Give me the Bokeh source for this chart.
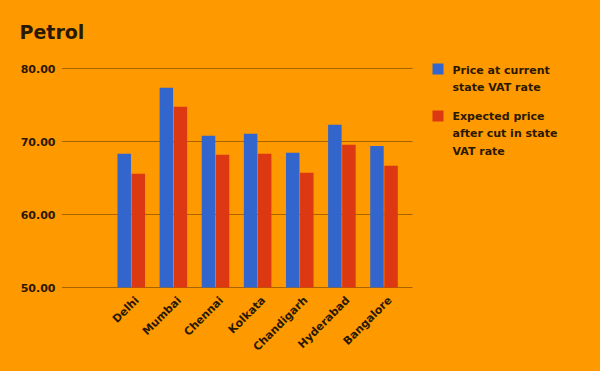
import math
from bokeh.plotting import figure
from bokeh.models import (ColumnDataSource, Range1d, FixedTicker, NumeralTickFormatter, LinearAxis)
from bokeh.core.properties import value
from bokeh.embed import file_html
from bokeh.resources import INLINE

cities = ["Delhi", "Mumbai", "Chennai", "Kolkata", "Chandigarh", "Hyderabad", "Bangalore"]
current_price = [68.31, 77.35, 70.78, 71.05, 68.45, 72.28, 69.40]
expected_price = [65.57, 74.75, 68.17, 68.31, 65.71, 69.54, 66.67]
y_ticks = [50, 60, 70, 80]
series_names = ["Price at current\nstate VAT rate", "Expected price\nafter cut in state\nVAT rate"]
series_colors = ["#3366cc", "#dc3912"]

BG = "#ff9900"
TXT = "#2a1800"
GRID = "#a86400"
FONT = "DejaVu Sans"

# pixel geometry of the plotting frame
W, H = 600, 371
FL, FT, FB = 61, 50, 288          # frame left, top, bottom (px)
PX_PER_X = 42.125                 # px per category
PX_PER_Y = 7.3                    # px per unit of price
X0 = -1.656                       # x value at frame left
GRID_RIGHT_PX = 412
Y80_PX = 68
LABEL_SHIFT = 6 / PX_PER_X        # category labels sit a little right of centre

x_end = X0 + (W - FL) / PX_PER_X
y_end = 80 + (Y80_PX - FT) / PX_PER_Y
y_start = y_end - (FB - FT) / PX_PER_Y


def dx(px):
    return X0 + (px - FL) / PX_PER_X


def dy(py):
    return 80 - (py - Y80_PX) / PX_PER_Y


idx = list(range(len(cities)))
src = ColumnDataSource(dict(
    x1=[i - 0.167 for i in idx], x2=[i + 0.167 for i in idx],
    cur=current_price, exp=expected_price))

p = figure(width=W, height=H, output_backend="svg", toolbar_location=None,
           x_range=Range1d(X0, x_end), y_range=Range1d(y_start, y_end),
           x_axis_location=None,
           min_border_left=FL, min_border_right=0, min_border_top=FT, min_border_bottom=H - FB)
p.background_fill_alpha = 0
p.border_fill_color = BG
p.outline_line_color = None
p.xgrid.grid_line_color = None
p.ygrid.grid_line_color = None

p.extra_x_ranges = {"labels": Range1d(X0 - LABEL_SHIFT, x_end - LABEL_SHIFT)}
xaxis = LinearAxis(x_range_name="labels")
p.add_layout(xaxis, "below")

# gridlines (only across the bar area)
p.segment(x0=[X0] * len(y_ticks), x1=[dx(GRID_RIGHT_PX)] * len(y_ticks),
          y0=y_ticks, y1=y_ticks, line_color=GRID, line_width=1.2)

p.vbar(x="x1", top="cur", bottom=y_ticks[0], width=0.32, source=src,
       fill_color=series_colors[0], line_color=None)
p.vbar(x="x2", top="exp", bottom=y_ticks[0], width=0.32, source=src,
       fill_color=series_colors[1], line_color=None)

p.yaxis.ticker = FixedTicker(ticks=y_ticks)
p.yaxis.formatter = NumeralTickFormatter(format="0.00")
xaxis.ticker = FixedTicker(ticks=idx)
xaxis.major_label_overrides = {i: c for i, c in zip(idx, cities)}
xaxis.major_label_orientation = math.pi / 4
for ax in (xaxis, p.yaxis[0]):
    ax.axis_line_color = None
    ax.major_tick_line_color = None
    ax.minor_tick_line_color = None
    ax.major_tick_out = 0
    ax.major_tick_in = 0
    ax.major_label_text_font = FONT
    ax.major_label_text_font_style = "bold"
    ax.major_label_text_font_size = "11px"
    ax.major_label_text_color = TXT
p.yaxis.major_label_standoff = 6
xaxis.major_label_standoff = 10

p.title.text = "Petrol"
p.title.text_font = FONT
p.title.text_font_style = "bold"
p.title.text_font_size = "19px"
p.title.text_color = TXT
p.title.align = "left"
p.title.offset = -42
p.title.standoff = 16

# legend drawn by hand (square + wrapped lines, top-aligned like the reference)
sq_top = [63, 110]
line_base = [69.5, 115.5]
LINE_STEP = 17.6
for name, color, st, lb in zip(series_names, series_colors, sq_top, line_base):
    p.rect(x=[dx(437.5)], y=[dy(st + 5.5)], width=11, height=11,
           width_units="screen", height_units="screen",
           fill_color=color, line_color=None)
    lines = name.split("\n")
    p.text(x=[dx(452)] * len(lines), y=[dy(lb + k * LINE_STEP) for k in range(len(lines))],
           text=lines, text_font=value(FONT), text_font_style="bold",
           text_font_size="11px", text_color=TXT, text_baseline="alphabetic",
           text_align="left")

html = file_html(p, INLINE)
html = html.replace("<head>", "<head><style>body{background:#ff9900;}</style>", 1)
open("out.html", "w").write(html)
